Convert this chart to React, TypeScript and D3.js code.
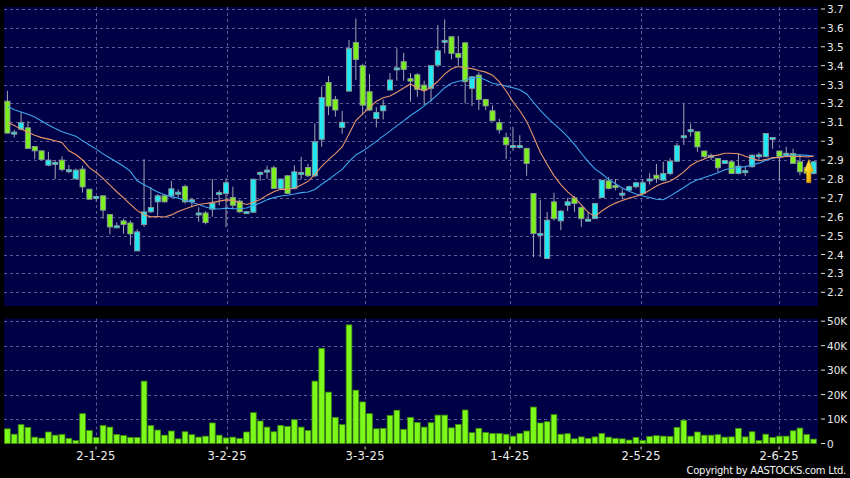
import React from "react";
import * as d3 from "d3";

// ---- data (HK trading days, 11-12-24 .. 10-6-25) ----
const opens = [
  3.212, 3.043, 3.064, 3.071, 2.972, 2.949, 2.873, 2.885, 2.9, 2.846,
  2.8, 2.852, 2.746, 2.697, 2.711, 2.612, 2.548, 2.578, 2.567, 2.419,
  2.559, 2.626, 2.679, 2.711, 2.711, 2.727, 2.76, 2.685, 2.616, 2.62,
  2.64, 2.724, 2.723, 2.702, 2.683, 2.624, 2.624, 2.832, 2.843, 2.859,
  2.749, 2.817, 2.749, 2.832, 2.861, 2.817, 3.01, 3.311, 3.221, 3.073,
  3.265, 3.523, 3.4, 3.262, 3.12, 3.161, 3.271, 3.384, 3.421, 3.331,
  3.352, 3.297, 3.28, 3.403, 3.53, 3.553, 3.465, 3.521, 3.28, 3.35,
  3.221, 3.161, 3.098, 3.02, 2.974, 2.975, 2.962, 2.723, 2.51, 2.379,
  2.679, 2.578, 2.661, 2.7, 2.649, 2.583, 2.59, 2.702, 2.79, 2.765,
  2.722, 2.741, 2.759, 2.723, 2.797, 2.82, 2.794, 2.829, 2.894, 3.025,
  3.057, 3.05, 2.948, 2.921, 2.909, 2.882, 2.891, 2.829, 2.84, 2.865,
  2.924, 2.918, 3.016, 2.948, 2.933, 2.935, 2.891, 2.86, 2.829,
];
const highs = [
  3.267, 3.06, 3.152, 3.106, 2.975, 2.95, 2.944, 2.9, 2.92, 2.875,
  2.855, 2.87, 2.746, 2.71, 2.711, 2.612, 2.57, 2.59, 2.58, 2.534,
  2.905, 2.758, 2.72, 2.72, 2.79, 2.745, 2.77, 2.7, 2.65, 2.63,
  2.8, 2.74, 2.804, 2.76, 2.69, 2.63, 2.8, 2.84, 2.87, 2.87,
  2.8, 2.82, 2.873, 2.917, 2.88, 3.094, 3.29, 3.345, 3.24, 3.16,
  3.536, 3.65, 3.41, 3.356, 3.18, 3.22, 3.36, 3.492, 3.468, 3.36,
  3.36, 3.32, 3.4, 3.615, 3.645, 3.555, 3.557, 3.525, 3.345, 3.365,
  3.225, 3.19, 3.118, 3.045, 3.076, 3.032, 2.965, 2.723, 2.69, 2.626,
  2.727, 2.635, 2.7, 2.71, 2.655, 2.625, 2.67, 2.794, 2.81, 2.8,
  2.75, 2.765, 2.785, 2.8, 2.83, 2.88, 2.891, 2.91, 2.99, 3.2,
  3.094, 3.05, 2.95, 2.935, 2.91, 2.9, 2.895, 2.935, 2.865, 2.93,
  2.94, 3.041, 3.02, 2.95, 2.97, 2.96, 2.93, 2.87, 2.895,
];
const lows = [
  3.04, 3.02, 3.058, 2.96, 2.905, 2.9, 2.868, 2.8, 2.84, 2.83,
  2.8, 2.728, 2.69, 2.68, 2.59, 2.507, 2.54, 2.51, 2.45, 2.419,
  2.546, 2.62, 2.605, 2.675, 2.7, 2.7, 2.67, 2.65, 2.573, 2.56,
  2.6, 2.66, 2.545, 2.64, 2.62, 2.62, 2.62, 2.79, 2.8, 2.75,
  2.745, 2.72, 2.745, 2.8, 2.81, 2.81, 2.97, 3.138, 3.13, 3.04,
  3.265, 3.324, 3.138, 3.16, 3.073, 3.115, 3.27, 3.32, 3.32, 3.21,
  3.235, 3.19, 3.21, 3.4, 3.465, 3.433, 3.4, 3.2, 3.186, 3.165,
  3.165, 3.106, 3.04, 2.905, 2.95, 2.96, 2.817, 2.387, 2.387, 2.379,
  2.58, 2.529, 2.63, 2.626, 2.546, 2.58, 2.59, 2.7, 2.745, 2.74,
  2.693, 2.735, 2.75, 2.72, 2.77, 2.78, 2.79, 2.82, 2.89, 2.98,
  3.025, 2.944, 2.91, 2.9, 2.835, 2.88, 2.829, 2.825, 2.815, 2.86,
  2.9, 2.915, 2.96, 2.79, 2.915, 2.88, 2.82, 2.82, 2.825,
];
const closes = [
  3.043, 3.048, 3.098, 2.962, 2.949, 2.903, 2.9, 2.888, 2.85, 2.849,
  2.847, 2.758, 2.693, 2.707, 2.635, 2.546, 2.552, 2.559, 2.509, 2.52,
  2.626, 2.649, 2.711, 2.679, 2.748, 2.73, 2.679, 2.69, 2.62, 2.569,
  2.672, 2.728, 2.78, 2.661, 2.626, 2.627, 2.799, 2.835, 2.847, 2.75,
  2.8, 2.723, 2.838, 2.835, 2.817, 2.997, 3.232, 3.186, 3.165, 3.1,
  3.491, 3.433, 3.191, 3.165, 3.152, 3.188, 3.324, 3.388, 3.38, 3.318,
  3.274, 3.271, 3.4, 3.479, 3.534, 3.465, 3.444, 3.315, 3.341, 3.221,
  3.187, 3.108, 3.06, 2.981, 2.977, 2.977, 2.882, 2.511, 2.512, 2.582,
  2.59, 2.63, 2.679, 2.67, 2.59, 2.587, 2.67, 2.794, 2.75, 2.762,
  2.725, 2.759, 2.78, 2.78, 2.8, 2.803, 2.829, 2.894, 2.976, 3.029,
  3.061, 2.97, 2.918, 2.925, 2.859, 2.898, 2.829, 2.868, 2.844, 2.926,
  2.928, 3.041, 3.02, 2.918, 2.936, 2.882, 2.838, 2.83, 2.891,
];
// volume in thousands of shares
const volumes = [
  6.0, 3.8, 7.7, 6.6, 2.6, 2.2, 4.7, 3.4, 3.7, 2.1,
  1.2, 12.2, 5.3, 2.5, 7.4, 6.7, 3.7, 3.3, 2.5, 2.5,
  25.5, 7.3, 5.5, 3.4, 5.1, 1.9, 4.8, 3.6, 2.6, 3.0,
  8.4, 3.4, 2.3, 2.6, 2.1, 4.7, 12.6, 9.2, 6.7, 4.8,
  7.4, 7.0, 9.7, 6.7, 5.3, 25.5, 38.9, 21.0, 10.7, 7.7,
  48.5, 21.8, 17.0, 12.2, 6.0, 6.2, 11.5, 13.6, 5.8, 10.7,
  8.6, 6.7, 8.5, 11.6, 11.6, 6.4, 7.8, 13.7, 4.4, 6.2,
  4.5, 4.1, 4.1, 3.8, 3.0, 4.1, 5.1, 14.9, 8.4, 8.9,
  11.8, 3.8, 4.0, 1.9, 2.7, 2.1, 2.7, 4.1, 2.6, 2.1,
  1.9, 1.4, 2.5, 1.2, 2.9, 3.2, 3.0, 2.9, 6.6, 9.5,
  3.0, 4.7, 3.4, 3.4, 3.6, 2.6, 2.7, 6.2, 2.7, 4.8,
  1.2, 3.8, 2.5, 3.0, 3.0, 5.2, 6.3, 3.7, 1.8,
];
const ma10Lead = [3.1, 3.083, 3.064, 3.048, 3.031, 3.019, 3.011, 3.002, 2.992];
const ma20Lead = [
  3.184, 3.167, 3.155, 3.143, 3.128, 3.107, 3.086, 3.067, 3.05, 3.038,
  3.026, 3.003, 2.98, 2.958, 2.933, 2.911, 2.89, 2.867, 2.84,
];
const dateTickIndex = [13, 32, 52, 73, 92, 112];
const dateTickLabels = ["2-1-25", "3-2-25", "3-3-25", "1-4-25", "2-5-25", "2-6-25"];
const priceTicks = [2.2, 2.3, 2.4, 2.5, 2.6, 2.7, 2.8, 2.9, 3, 3.1, 3.2, 3.3, 3.4, 3.5, 3.6, 3.7];
const volumeTicks = [0, 10, 20, 30, 40, 50];
const arrowIndex = 117;
const arrowTop = 2.903;
const arrowBottom = 2.78;

const FONT = "'DejaVu Sans', Verdana, sans-serif";
const BG = "#000046";
const GRID = "#5c5c92";
const UP = "#22e6f2";
const DOWN = "#7cf01c";
const VOL = "#7cf81a";

function movingAverage(period: number, lead: number[]) {
  return closes.map((_, i) =>
    i < period - 1 ? lead[i] : (d3.mean(closes.slice(i - period + 1, i + 1)) as number)
  );
}

export default function App() {
  const n = closes.length;
  const left = 4;
  const right = 818;
  const pTop = 7;
  const pBottom = 306;
  const vTop = 318.5;
  const vBottom = 444;

  const x = d3
    .scaleBand<number>()
    .domain(d3.range(n))
    .range([left, 817])
    .paddingInner(0.16)
    .paddingOuter(0.08);
  const bw = x.bandwidth();
  const cx = (i: number) => (x(i) as number) + bw / 2;
  const tickX = d3.scaleLinear().domain([0, n - 1]).range([6.3, 6.3 + 6.9 * (n - 1)]);

  const y = d3.scaleLinear().domain([2.2, 3.7]).range([292.3, 9]);
  const v = d3.scaleLinear().domain([0, 50]).range([443.5, 321.2]);

  const ma10 = movingAverage(10, ma10Lead);
  const ma20 = movingAverage(20, ma20Lead);
  const line = d3
    .line<number>()
    .x((_, i) => cx(i))
    .y((d) => y(d));

  const ax = cx(arrowIndex) + 2;
  const at = y(arrowTop);
  const ab = y(arrowBottom);
  const headH = (ab - at) * 0.52;
  const arrowPath = `M${ax},${at} L${ax + 4.8},${at + headH} L${ax + 2.2},${at + headH} L${ax + 2.2},${ab} L${ax - 2.2},${ab} L${ax - 2.2},${at + headH} L${ax - 4.8},${at + headH} Z`;

  return (
    <svg
      width={850}
      height={478}
      style={{ position: "absolute", left: 0, top: 0, display: "block" }}
      fontFamily={FONT}
    >
      <defs>
        <linearGradient id="arrowGrad" x1="0" y1="0" x2="1" y2="1">
          <stop offset="0" stopColor="#fff6a8" />
          <stop offset="0.45" stopColor="#ffd21a" />
          <stop offset="1" stopColor="#e08a00" />
        </linearGradient>
      </defs>
      <rect x={0} y={0} width={850} height={478} fill="#000" />
      <rect x={left} y={pTop} width={right - left} height={pBottom - pTop} fill={BG} />
      <rect x={left} y={vTop} width={right - left} height={vBottom - vTop} fill={BG} />

      {/* grid */}
      <g stroke={GRID} strokeWidth={1} strokeDasharray="3,3">
        {priceTicks.map((t) => (
          <line key={"hp" + t} x1={left} x2={right} y1={Math.round(y(t)) + 0.5} y2={Math.round(y(t)) + 0.5} />
        ))}
        {volumeTicks.slice(1).map((t) => (
          <line key={"hv" + t} x1={left} x2={right} y1={Math.round(v(t)) + 0.5} y2={Math.round(v(t)) + 0.5} />
        ))}
        {dateTickIndex.map((di) => (
          <g key={"vg" + di}>
            <line x1={Math.round(tickX(di)) + 0.5} x2={Math.round(tickX(di)) + 0.5} y1={pTop} y2={pBottom} />
            <line x1={Math.round(tickX(di)) + 0.5} x2={Math.round(tickX(di)) + 0.5} y1={vTop} y2={vBottom} />
          </g>
        ))}
      </g>

      {/* volume */}
      <g>
        {volumes.map((vol, i) => (
          <rect
            key={"v" + i}
            x={x(i)}
            y={v(vol)}
            width={bw}
            height={v(0) - v(vol)}
            fill={VOL}
            stroke="#3f8a10"
            strokeWidth={0.8}
          />
        ))}
      </g>

      {/* candles */}
      <g>
        {closes.map((c, i) => {
          const o = opens[i];
          const up = c >= o;
          const top = y(Math.max(o, c));
          const bot = y(Math.min(o, c));
          const h = Math.max(bot - top, 2);
          return (
            <g key={"c" + i}>
              <line x1={cx(i)} x2={cx(i)} y1={y(highs[i])} y2={y(lows[i])} stroke="#a4a4b4" strokeWidth={1} />
              <rect
                x={(x(i) as number) + 0.3}
                y={top}
                width={bw - 0.6}
                height={h}
                fill={up ? UP : DOWN}
                stroke="#8a9a9a"
                strokeWidth={0.9}
              />
            </g>
          );
        })}
      </g>

      {/* moving averages */}
      <path d={line(ma20) || ""} fill="none" stroke="#3fa6ea" strokeWidth={1.1} />
      <path d={line(ma10) || ""} fill="none" stroke="#e8956a" strokeWidth={1.1} />

      {/* arrow marker */}
      <path d={arrowPath} fill="url(#arrowGrad)" stroke="#c88400" strokeWidth={0.6} />

      {/* right axis: price */}
      <g fill="#e8e8e8" fontSize={10.5}>
        {priceTicks.map((t) => (
          <g key={"pt" + t}>
            <line x1={821} x2={825} y1={y(t)} y2={y(t)} stroke="#e0e0e0" strokeWidth={1} />
            <text x={827} y={y(t)} dominantBaseline="central">
              {d3.format("")(t)}
            </text>
          </g>
        ))}
        {volumeTicks.map((t) => (
          <g key={"vt" + t}>
            <line x1={821} x2={825} y1={v(t)} y2={v(t)} stroke="#e0e0e0" strokeWidth={1} />
            <text x={827} y={v(t)} dominantBaseline="central">
              {t === 0 ? "0" : t + "K"}
            </text>
          </g>
        ))}
      </g>

      {/* date axis */}
      <g fill="#f0f0f0" fontSize={11.5}>
        {dateTickIndex.map((di, k) => (
          <g key={"dt" + di}>
            <line x1={tickX(di)} x2={tickX(di)} y1={446.5} y2={449.5} stroke="#d0d0d0" strokeWidth={1} />
            <text x={tickX(di)} y={460} textAnchor="middle" letterSpacing={0.3}>
              {dateTickLabels[k]}
            </text>
          </g>
        ))}
      </g>

      <text x={846} y={474} textAnchor="end" fill="#f4f4f4" fontSize={10} letterSpacing={-0.3}>
        Copyright by AASTOCKS.com Ltd.
      </text>
    </svg>
  );
}
